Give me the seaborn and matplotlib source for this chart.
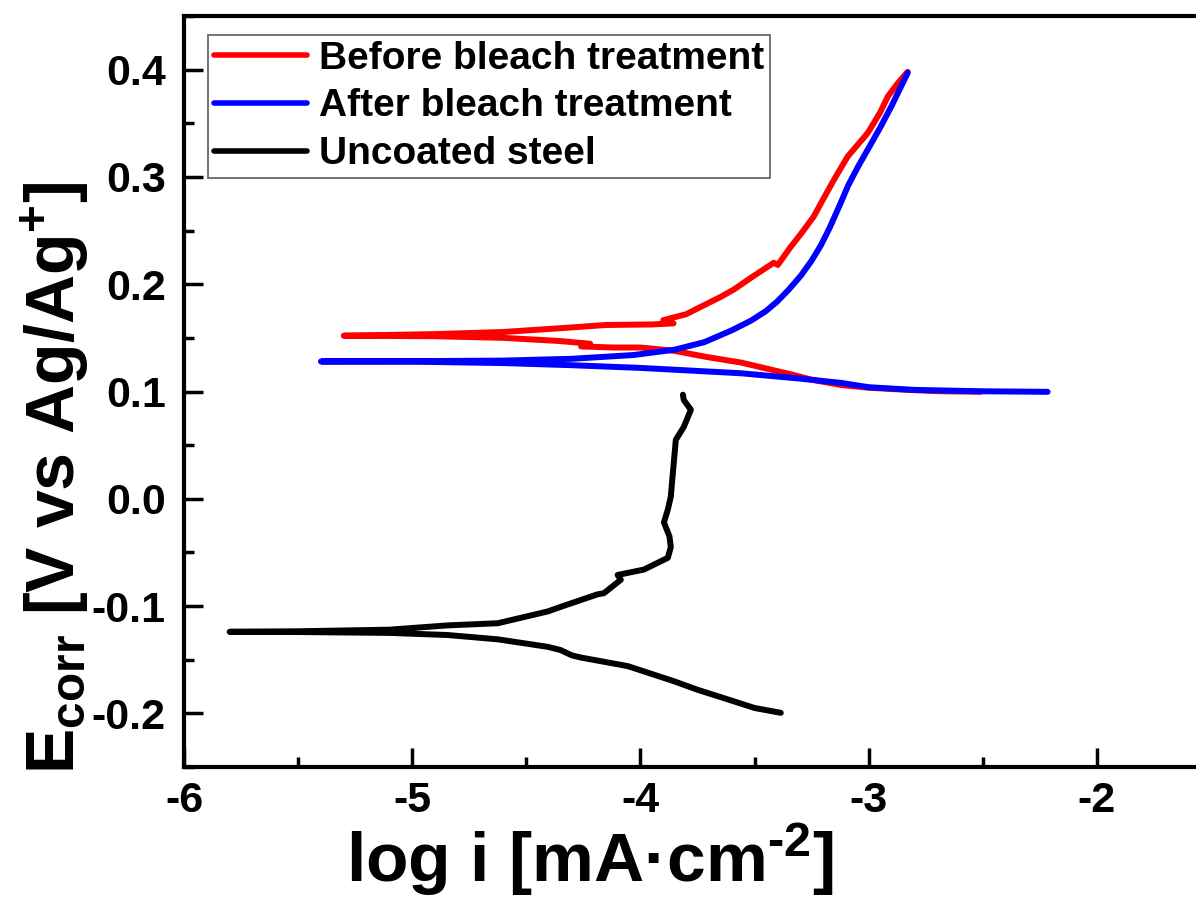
import numpy as np
import pandas as pd
import seaborn as sns
import matplotlib
matplotlib.use("Agg")
import matplotlib.pyplot as plt
from matplotlib.ticker import MultipleLocator

# Tafel curves: log i [mA cm-2] vs E [V vs Ag/Ag+]
# each trace runs from the cathodic end, through Ecorr, to the anodic end
before_logi = [-2.51, -2.70, -2.83, -3.00, -3.12, -3.25, -3.34, -3.45, -3.56, -3.705, -3.854,
               -4.00, -4.12, -4.26, -4.22, -4.35, -4.60, -4.90, -5.30,
               -4.90, -4.60, -4.35, -4.15, -3.95, -3.855, -3.90, -3.80, -3.735, -3.65,
               -3.591, -3.516, -3.416, -3.398, -3.341, -3.30, -3.241, -3.20, -3.153, -3.092,
               -3.004, -2.95, -2.916, -2.87, -2.829]
before_E = [0.0997, 0.1003, 0.1015, 0.1035, 0.106, 0.111, 0.116, 0.1215, 0.127, 0.132, 0.138,
            0.141, 0.141, 0.142, 0.1445, 0.147, 0.150, 0.1515, 0.152,
            0.1535, 0.1555, 0.159, 0.162, 0.1625, 0.1635, 0.1665, 0.172, 0.179, 0.188,
            0.195, 0.206, 0.220, 0.218, 0.235, 0.246, 0.263, 0.279, 0.297, 0.319,
            0.341, 0.360, 0.375, 0.388, 0.398]

after_logi = [-2.216, -2.50, -2.80, -3.00, -3.12, -3.30, -3.56, -4.00, -4.30, -4.60, -5.00,
              -5.40,
              -5.00, -4.60, -4.30, -4.03, -3.85, -3.72, -3.60, -3.516, -3.45, -3.40, -3.35,
              -3.297, -3.25, -3.21, -3.17, -3.122, -3.09, -3.048, -3.00, -2.947, -2.90,
              -2.829]
after_E = [0.0997, 0.1002, 0.1015, 0.104, 0.108, 0.112, 0.117, 0.122, 0.1245, 0.1265, 0.1278,
           0.128,
           0.1283, 0.1288, 0.1305, 0.134, 0.139, 0.146, 0.157, 0.166, 0.175, 0.184, 0.195,
           0.208, 0.222, 0.236, 0.253, 0.276, 0.292, 0.309, 0.327, 0.347, 0.366,
           0.397]

steel_logi = [-3.385, -3.50, -3.617, -3.75, -3.854, -4.055, -4.26, -4.30, -4.35, -4.406,
              -4.625, -4.844, -5.10, -5.50, -5.80,
              -5.50, -5.10, -4.844, -4.625, -4.406, -4.349, -4.187, -4.16, -4.086, -4.10,
              -3.985, -3.88, -3.867, -3.873, -3.897, -3.88, -3.867, -3.858, -3.845, -3.81,
              -3.779, -3.81, -3.814]
steel_E = [-0.1995, -0.195, -0.187, -0.178, -0.170, -0.156, -0.148, -0.146, -0.141, -0.138,
           -0.131, -0.127, -0.125, -0.1242, -0.124,
           -0.1235, -0.122, -0.118, -0.116, -0.105, -0.1007, -0.089, -0.088, -0.0755, -0.071,
           -0.066, -0.055, -0.045, -0.035, -0.022, -0.010, 0.002, 0.024, 0.055, 0.067,
           0.083, 0.092, 0.097]

labels = ["Before bleach treatment", "After bleach treatment", "Uncoated steel"]
colors = ["#ff0000", "#0000ff", "#000000"]

frames = []
for lab, xs, ys in zip(labels, [before_logi, after_logi, steel_logi], [before_E, after_E, steel_E]):
    frames.append(pd.DataFrame({"logi": xs, "E": ys, "sample": lab}))
df = pd.concat(frames, ignore_index=True)

sns.set_style("ticks")
plt.rcParams["font.family"] = ["Liberation Sans", "DejaVu Sans"]
plt.rcParams["font.weight"] = "bold"
plt.rcParams["mathtext.fontset"] = "custom"
plt.rcParams["mathtext.rm"] = "Liberation Sans:bold"
plt.rcParams["mathtext.it"] = "Liberation Sans:bold"
plt.rcParams["mathtext.bf"] = "Liberation Sans:bold"
for key in ["text.color", "axes.labelcolor", "xtick.color", "ytick.color", "axes.edgecolor"]:
    plt.rcParams[key] = "black"

fig = plt.figure(figsize=(11.96, 8.98), dpi=100)
ax = fig.add_axes([184 / 1196, 131 / 898, 1027 / 1196, 751 / 898])

sns.lineplot(data=df, x="logi", y="E", hue="sample", hue_order=labels, palette=colors,
             sort=False, estimator=None, linewidth=4.3, ax=ax)
for ln in ax.get_lines():
    ln.set_solid_joinstyle("round")
    ln.set_solid_capstyle("round")

ax.set_xlim(-6, -1.5)
ax.set_ylim(-0.25, 0.45)
ax.xaxis.set_major_locator(MultipleLocator(1))
ax.xaxis.set_minor_locator(MultipleLocator(0.5))
ax.yaxis.set_major_locator(MultipleLocator(0.1))
ax.yaxis.set_minor_locator(MultipleLocator(0.05))
ax.set_xticks(ax.get_xticks())
ax.set_xticklabels([f"{v:g}" for v in ax.get_xticks()])
ax.yaxis.set_major_formatter(matplotlib.ticker.FormatStrFormatter("%.1f"))
ax.set_xlim(-6, -1.5)

for s in ax.spines.values():
    s.set_linewidth(3)
ax.tick_params(which="major", direction="in", length=14, width=2.5, labelsize=31)
ax.tick_params(axis="x", which="major", pad=10)
ax.tick_params(axis="y", which="major", pad=13)
ax.tick_params(which="minor", direction="in", length=7, width=2.5)

ax.set_xlabel(r"log i [mA·cm$^{\text{-}2}$]", fontsize=50, fontweight="bold")
ax.set_ylabel(r"E$_{\rm corr}$ [V vs Ag/Ag$^{+}$]", fontsize=49, fontweight="bold")
ax.xaxis.set_label_coords(0.395, -0.072)
ax.yaxis.set_label_coords(-0.09, 0.385)

handles, _ = ax.get_legend_handles_labels()
leg = ax.legend(handles, labels, loc="upper left", bbox_to_anchor=(24 / 1027, 1 - 19 / 751),
                borderaxespad=0, fontsize=28, frameon=True, fancybox=False,
                handlelength=2.4, handletextpad=0.3, labelspacing=0.3, borderpad=0.15)
leg.get_frame().set_edgecolor("#333333")
leg.get_frame().set_linewidth(1.2)
for t in leg.get_texts():
    t.set_fontweight("bold")
for ln in leg.get_lines():
    ln.set_linewidth(4)

fig.savefig("out.png", dpi=100)
